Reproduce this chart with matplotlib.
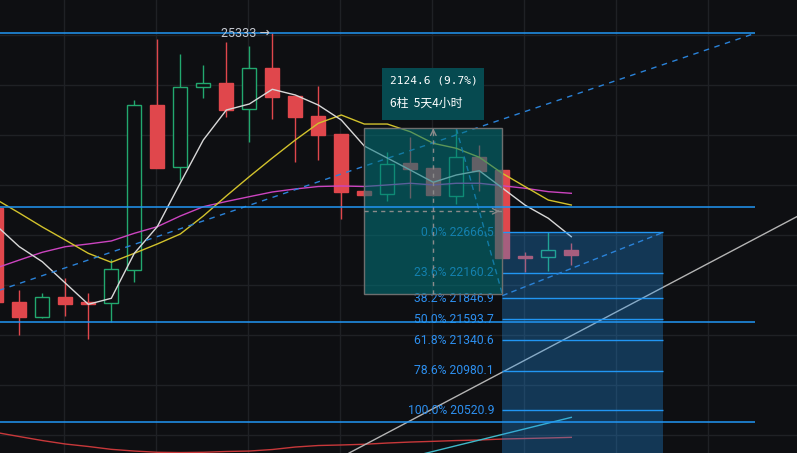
import numpy as np
import matplotlib
matplotlib.use('Agg')
import matplotlib.pyplot as plt
from matplotlib.patches import Rectangle
from matplotlib.ticker import NullLocator
import matplotlib.transforms as mtransforms

# Candles (index = bar number)
opens = [22976, 21801, 21622, 21862, 21804, 21785, 22190, 24337, 23505, 24579, 24638, 24279, 24846,
         24460, 24188, 23946, 23192, 23153, 23561, 23496, 23135, 23640, 23469, 22365, 22356, 22444]
highs = [23028, 21947, 21907, 22095, 21907, 22327, 24406, 25252, 25041, 24892, 25209, 25153, 25333,
         24460, 24601, 23946, 23209, 23703, 23902, 23523, 24022, 23800, 23469, 22418, 22674, 22528]
lows = [21752, 21403, 21610, 21635, 21355, 21559, 22049, 23496, 23339, 24429, 24179, 23839, 24152,
        23575, 23605, 22832, 23131, 23066, 23109, 23131, 23032, 23196, 22347, 22173, 22185, 22256]
closes = [21801, 21622, 21858, 21780, 21780, 22203, 24333, 23500, 24579, 24634, 24274, 24842, 24446,
          24179, 23933, 23183, 23148, 23552, 23487, 23148, 23637, 23460, 22347, 22347, 22440, 22385]

# Moving averages
ma_white = [22752, 22485, 22297, 22033, 21773, 21846, 22402, 22738, 23300, 23866, 24269, 24351, 24552,
            24474, 24337, 24134, 23786, 23627, 23469, 23309, 23404, 23460, 23235, 23011, 22845, 22611]
ma_yellow = [23086, 22912, 22734, 22569, 22402, 22290, 22402, 22519, 22645, 22874, 23131, 23382, 23627,
             23866, 24090, 24202, 24080, 24080, 23977, 23822, 23756, 23637, 23426, 23251, 23079, 23015]
ma_magenta = [22219, 22318, 22415, 22485, 22519, 22557, 22654, 22738, 22874, 22993, 23060, 23122, 23183,
              23222, 23254, 23261, 23254, 23274, 23296, 23274, 23296, 23296, 23264, 23231, 23187, 23166]
ma_red = [20268, 20222, 20177, 20138, 20110, 20078, 20059, 20045, 20042, 20045, 20054, 20059, 20076,
          20104, 20121, 20127, 20135, 20149, 20160, 20168, 20177, 20183, 20194, 20200, 20206, 20213]
cyan_start = 17
ma_cyan = [19920, 19992, 20055, 20119, 20182, 20246, 20310, 20375, 20440]

# Drawings
hline_prices = [25333, 22993, 21553, 20383]
hline_end = 33
up_trend_t = [-1, 33]
up_trend_p = [21836, 25333]
gray_trend_t = [18, 30]
gray_trend_p = [20402, 22132]

fib_start, fib_end = 22, 29
fib_pcts = ['0.0%', '23.6%', '38.2%', '50.0%', '61.8%', '78.6%', '100.0%']
fib_prices = [22666.5, 22160.2, 21846.9, 21593.7, 21340.6, 20980.1, 20520.9]
fib_trend_p = [21878, 22666.5]

range_start, range_end = 16, 22
range_low, range_high = 21897.0, 24021.6
range_diag_t = [20, 22]

grid_prices = [25304, 24607, 23929, 23270, 22629, 22005, 21399, 20810, 20236]

BG = '#0e0f12'
RED = '#e0474c'
GREEN = '#22a86e'
BLUE = '#2196f3'

fig = plt.figure(figsize=(7.97, 4.53), dpi=100, facecolor=BG)
ax = fig.add_axes([0, 0, 1, 1])
ax.set_facecolor(BG)
ax.set_yscale('log')
ax.set_xlim(0.161, 34.813)
ax.set_ylim(20037, 25808)
for s in ax.spines.values():
    s.set_visible(False)
ax.set_xticks(np.arange(3, 35, 4) - 0.04)
ax.set_yticks(grid_prices)
ax.yaxis.set_minor_locator(NullLocator())
ax.tick_params(length=0, labelleft=False, labelbottom=False)
ax.grid(color='#1f2125', lw=1)
ax.set_axisbelow(True)

# candles
x = np.arange(len(opens))
o = np.array(opens, float)
c = np.array(closes, float)
up = c >= o
cols = np.where(up, GREEN, RED)
ax.vlines(x, lows, highs, colors=cols, lw=1, zorder=3)
ax.bar(x, np.abs(c - o), bottom=np.minimum(o, c), width=0.62,
       color=np.where(up, BG, RED), edgecolor=cols, lw=1, zorder=3.1)

# moving averages
ax.plot(x, ma_red, color='#c8383a', lw=1, zorder=4)
ax.plot(np.arange(cyan_start, cyan_start + len(ma_cyan)), ma_cyan, color='#3fb8c8', lw=1, zorder=4)
ax.plot(x, ma_magenta, color='#cc44c0', lw=1, zorder=4)
ax.plot(x, ma_yellow, color='#d2c22c', lw=1, zorder=4)
ax.plot(x, ma_white, color='#d8d8d8', lw=1, zorder=4)

# trend lines
ax.plot(up_trend_t, up_trend_p, color='#2a82d8', lw=1, ls=(0, (4, 4)), zorder=4)
ax.axline((gray_trend_t[0], gray_trend_p[0]), (gray_trend_t[1], gray_trend_p[1]),
          color='#b4b4b4', lw=1, zorder=4)

# fib retracement
fib_bottom = fib_prices[0] - 1.618 * (fib_prices[0] - fib_prices[-1])
ax.add_patch(Rectangle((fib_start, fib_bottom), fib_end - fib_start, fib_prices[0] - fib_bottom,
                       facecolor=BLUE, alpha=0.3, lw=0, zorder=5))
ax.hlines(fib_prices, fib_start, fib_end, color=BLUE, lw=1, zorder=5.5)
for pct, p in zip(fib_pcts, fib_prices):
    ax.text(fib_start - 0.36, p, f'{pct} {p:.1f}', color='#2d8fef', fontsize=8.7,
            family=['Roboto', 'DejaVu Sans'], ha='right', va='center', zorder=5.5)
ax.plot([fib_start, fib_end], fib_trend_p, color='#2a82d8', lw=1, ls=(0, (4, 3)), zorder=5.5)

# range diagonal (under the box)
ax.plot(range_diag_t, [range_high, range_low], color='#2a82d8', lw=1, ls=(0, (4, 3)), zorder=5.5)

# price range box
ax.add_patch(Rectangle((range_start, range_low), range_end - range_start, range_high - range_low,
                       facecolor='#00757c', alpha=0.56, lw=0, zorder=6))
ax.add_patch(Rectangle((range_start, range_low), range_end - range_start, range_high - range_low,
                       fill=False, edgecolor='#6e6e6e', lw=1, zorder=6.1))
mid_t = (range_start + range_end) / 2
mid_p = np.sqrt(range_low * range_high)
ax.plot([range_start, range_end], [mid_p, mid_p], color='#8a8a8a', lw=1, ls=(0, (3, 3)), zorder=6.2)
ax.plot([mid_t, mid_t], [range_low, range_high], color='#8a8a8a', lw=1, ls=(0, (3, 3)), zorder=6.2)
ax.annotate('', xy=(range_end, mid_p), xytext=(range_end - 0.3, mid_p),
            arrowprops=dict(arrowstyle='->', color='#8a8a8a', lw=1), zorder=6.2)
ax.annotate('', xy=(mid_t, range_high), xytext=(mid_t, range_high * 0.997),
            arrowprops=dict(arrowstyle='->', color='#8a8a8a', lw=1), zorder=6.2)

# horizontal lines
ax.hlines(hline_prices, -1, hline_end, color=BLUE, lw=1.1, zorder=6.5)

# high label
ax.text(11.9, hline_prices[0], '25333 →', color='#c4c8d0', fontsize=9,
        family=['Roboto', 'DejaVu Sans'], ha='right', va='center', zorder=7)

# range label box
x0, y0 = ax.transData.transform((mid_t, range_high))
ident = mtransforms.IdentityTransform()
ax.add_patch(Rectangle((x0 - 51, y0 + 8.3), 102, 52, transform=ident,
                       facecolor='#064a50', lw=0, zorder=8, clip_on=False))
diff = range_high - range_low
ax.text(x0 - 43, y0 + 47.5, f'{diff:.1f} ({diff / range_low * 100:.1f}%)', transform=ident,
        color='white', fontsize=8, family=['DejaVu Sans Mono'], ha='left', va='center', zorder=9)
ax.text(x0 - 43, y0 + 25, f'{range_end - range_start}柱  5天4小时', transform=ident,
        color='white', fontsize=8.6, family=['Noto Sans CJK SC', 'DejaVu Sans'],
        ha='left', va='center', zorder=9)

fig.savefig('out.png', dpi=100, facecolor=BG)
